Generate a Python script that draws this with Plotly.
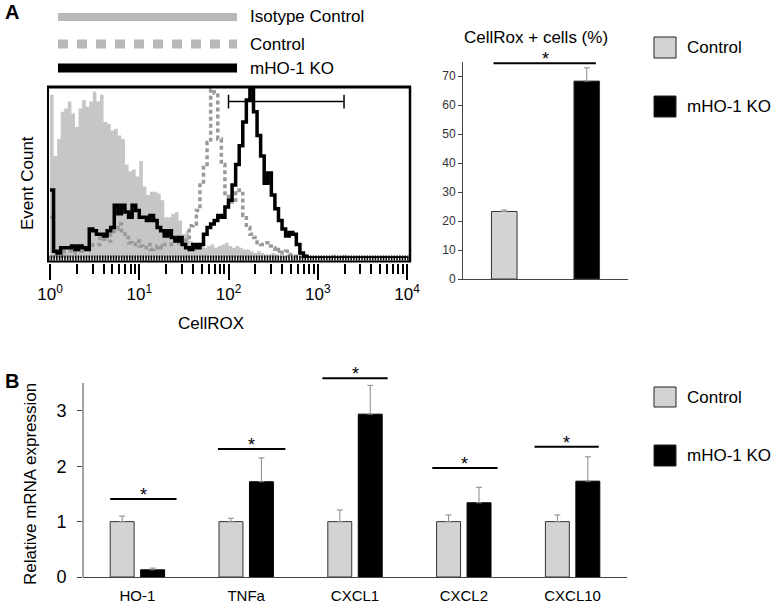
import plotly.graph_objects as go

# ---------------- DATA ----------------
# Panel A, flow histogram: counts (% of max) in bins of 0.04 decade, starting at 10^0
hist_bin_decades = 0.04
isotype_counts = [96, 60, 70, 86, 88, 92, 85, 77, 88, 93, 89, 92, 98, 92, 96, 80, 79, 75, 76, 72,
                  70, 55, 51, 52, 48, 57, 42, 37, 39, 39, 38, 34, 24, 24, 26, 27, 22, 14, 16, 10,
                  8, 9, 7, 6, 7, 8, 6, 7, 8, 9, 7, 6, 7, 6, 5, 5, 4, 3, 4, 3,
                  2, 2, 3, 2, 1, 1, 1, 0, 0, 0, 0, 2, 0, 0, 0, 0, 0, 0, 0, 2,
                  0, 0, 2, 0, 0, 0, 0, 0, 0, 0, 0, 0, 0, 0, 0, 0, 0, 0, 0, 0]
control_counts = [24, 2, 2, 1, 4, 4, 3, 4, 4, 6, 5, 6, 8, 8, 12, 11, 10, 14, 17, 20,
                  16, 12, 9, 8, 10, 7, 6, 8, 5, 6, 7, 6, 8, 8, 10, 12, 9, 10, 12, 19,
                  20, 28, 43, 55, 68, 99, 97, 70, 55, 38, 33, 34, 40, 38, 25, 18, 14, 12, 9, 8,
                  9, 7, 6, 4, 5, 3, 4, 2, 1, 0, 0, 0, 0, 0, 0, 0, 0, 0, 0, 0,
                  0, 0, 0, 0, 0, 0, 0, 0, 0, 0, 0, 0, 0, 0, 0, 0, 0, 0, 0, 0]
ko_counts = [40, 4, 3, 6, 6, 6, 7, 5, 7, 6, 5, 17, 16, 14, 14, 13, 16, 18, 31, 26,
             31, 27, 24, 31, 28, 24, 24, 22, 25, 22, 18, 16, 13, 16, 12, 10, 12, 8, 6, 5,
             8, 6, 8, 14, 18, 20, 22, 25, 24, 30, 34, 43, 55, 66, 80, 93, 100, 86, 72, 60,
             44, 50, 37, 29, 22, 17, 13, 15, 14, 8, 3, 1, 0, 0, 0, 0, 0, 0, 0, 0,
             0, 0, 0, 0, 0, 0, 0, 0, 0, 0, 0, 0, 0, 0, 0, 0, 0, 0, 0, 0]
gate_limits = [100, 1970]
gate_level = 92
gate_cap = 4
hist_tick_vals = [1, 10, 100, 1000, 10000]
hist_tick_text = ["10<sup>0</sup>", "10<sup>1</sup>", "10<sup>2</sup>", "10<sup>3</sup>", "10<sup>4</sup>"]

# Panel A, bar chart
cellrox_groups = ["Control", "mHO-1 KO"]
cellrox_values = [23.3, 68.3]
cellrox_errors = [0.5, 4.6]
cellrox_sig_level = 74.5
cellrox_ticks = [0, 10, 20, 30, 40, 50, 60, 70]

# Panel B
genes = ["HO-1", "TNFa", "CXCL1", "CXCL2", "CXCL10"]
control_expr = [1.0, 1.0, 1.0, 1.0, 1.0]
control_err = [0.10, 0.06, 0.21, 0.12, 0.12]
ko_expr = [0.13, 1.72, 2.94, 1.34, 1.73]
ko_err = [0.03, 0.43, 0.52, 0.28, 0.44]
sig_heights = [1.41, 2.31, 3.59, 1.97, 2.35]
sig_start = [-0.25, -0.26, -0.30, -0.29, -0.35]
sig_end = [0.36, 0.36, 0.30, 0.31, 0.24]
expr_ticks = [0, 1, 2, 3]

# ---------------- LAYOUT HELPERS ----------------
W, H = 773, 604
def PX(x):
    return x / W
def PY(y):
    return 1 - y / H

FONT = "Arial, Liberation Sans, sans-serif"
LIGHT = "#d3d3d3"
ISO = "#c6c6c6"
CTRL_LINE = "#9a9a9a"

fig = go.Figure()

# ---------------- Histogram ----------------
n = len(isotype_counts)
hx = [10 ** (hist_bin_decades * k) for k in range(n)] + [10 ** (hist_bin_decades * n)]
def ext(v):
    return list(v) + [v[-1]]

fig.add_trace(go.Scatter(x=hx, y=ext(isotype_counts), mode="lines", line=dict(shape="hv", width=0, color=ISO),
                         fill="tozeroy", fillcolor=ISO, xaxis="x", yaxis="y", showlegend=False))
fig.add_trace(go.Scatter(x=hx, y=ext(control_counts), mode="lines",
                         line=dict(shape="hv", width=3.5, color=CTRL_LINE, dash="4px,3px"),
                         xaxis="x", yaxis="y", showlegend=False))
fig.add_trace(go.Scatter(x=hx, y=ext(ko_counts), mode="lines", line=dict(shape="hv", width=3.5, color="black"),
                         xaxis="x", yaxis="y", showlegend=False))
# gate marker
fig.add_trace(go.Scatter(x=[gate_limits[0], gate_limits[0], None, gate_limits[0], gate_limits[1], None,
                            gate_limits[1], gate_limits[1]],
                         y=[gate_level - gate_cap, gate_level + gate_cap, None, gate_level, gate_level, None,
                            gate_level - gate_cap, gate_level + gate_cap],
                         mode="lines", line=dict(color="black", width=1.5), xaxis="x", yaxis="y", showlegend=False))

minor_vals = [m * 10 ** d for d in range(4) for m in range(2, 10)]

# ---------------- CellROX bars ----------------
fig.add_trace(go.Bar(x=cellrox_groups, y=cellrox_values, width=0.31, offset=-0.155,
                     marker=dict(color=[LIGHT, "black"], line=dict(color="#333", width=1)),
                     error_y=dict(type="data", symmetric=False, array=cellrox_errors, arrayminus=[0, 0],
                                  color="#888", thickness=1, width=3),
                     xaxis="x2", yaxis="y2", showlegend=False))

# ---------------- Panel B bars ----------------
fig.add_trace(go.Bar(x=genes, y=control_expr, width=0.22, offset=-0.25,
                     marker=dict(color=LIGHT, line=dict(color="#333", width=1)),
                     error_y=dict(type="data", symmetric=False, array=control_err, arrayminus=[0] * 5,
                                  color="#888", thickness=1, width=3),
                     xaxis="x3", yaxis="y3", showlegend=False))
fig.add_trace(go.Bar(x=genes, y=ko_expr, width=0.22, offset=0.03,
                     marker=dict(color="black", line=dict(color="black", width=1)),
                     error_y=dict(type="data", symmetric=False, array=ko_err, arrayminus=[0] * 5,
                                  color="#888", thickness=1, width=3),
                     xaxis="x3", yaxis="y3", showlegend=False))

shapes = []
annotations = []

# histogram frame
shapes += [
    dict(type="line", xref="paper", yref="paper", x0=PX(47), x1=PX(411), y0=PY(87), y1=PY(87),
         line=dict(color="black", width=3)),
    dict(type="line", xref="paper", yref="paper", x0=PX(48), x1=PX(48), y0=PY(86), y1=PY(262),
         line=dict(color="black", width=2)),
    dict(type="line", xref="paper", yref="paper", x0=PX(410), x1=PX(410), y0=PY(86), y1=PY(262),
         line=dict(color="black", width=2.5)),
    dict(type="line", xref="paper", yref="paper", x0=PX(48), x1=PX(410), y0=PY(258), y1=PY(258),
         line=dict(color="black", width=5, dash="1.5px,1.2px")),
    dict(type="line", xref="paper", yref="paper", x0=PX(47), x1=PX(411), y0=PY(261.5), y1=PY(261.5),
         line=dict(color="black", width=2)),
]
# histogram legend
shapes += [
    dict(type="line", xref="paper", yref="paper", x0=PX(58), x1=PX(237), y0=PY(17), y1=PY(17),
         line=dict(color="#b8b8b8", width=8)),
    dict(type="line", xref="paper", yref="paper", x0=PX(58), x1=PX(237), y0=PY(44), y1=PY(44),
         line=dict(color="#b8b8b8", width=9, dash="10px,9px")),
    dict(type="line", xref="paper", yref="paper", x0=PX(58), x1=PX(237), y0=PY(68), y1=PY(68),
         line=dict(color="black", width=9)),
]
for txt, yy in [("Isotype Control", 17), ("Control", 44), ("mHO-1 KO", 68)]:
    annotations.append(dict(text=txt, xref="paper", yref="paper", x=PX(248), y=PY(yy), xanchor="left",
                            yanchor="middle", showarrow=False, font=dict(size=17, color="black")))

annotations += [
    dict(text="<b>A</b>", xref="paper", yref="paper", x=PX(3), y=PY(12), xanchor="left", yanchor="middle",
         showarrow=False, font=dict(size=20, color="black")),
    dict(text="<b>B</b>", xref="paper", yref="paper", x=PX(3), y=PY(381), xanchor="left", yanchor="middle",
         showarrow=False, font=dict(size=20, color="black")),
    dict(text="Event Count", xref="paper", yref="paper", x=PX(27), y=PY(183), textangle=-90,
         xanchor="center", yanchor="middle", showarrow=False, font=dict(size=17, color="black")),
    dict(text="CellROX", xref="paper", yref="paper", x=PX(211), y=PY(323), xanchor="center",
         yanchor="middle", showarrow=False, font=dict(size=17, color="black")),
    dict(text="CellRox + cells (%)", xref="paper", yref="paper", x=PX(536), y=PY(37), xanchor="center",
         yanchor="middle", showarrow=False, font=dict(size=17, color="black")),
    dict(text="Relative mRNA expression", xref="paper", yref="paper", x=PX(30), y=PY(484), textangle=-90,
         xanchor="center", yanchor="middle", showarrow=False, font=dict(size=17, color="black")),
]

# CellROX significance
shapes.append(dict(type="line", xref="x2", yref="y2", x0=-0.13, x1=1.11, y0=cellrox_sig_level,
                   y1=cellrox_sig_level, line=dict(color="black", width=2)))
annotations.append(dict(text="*", xref="x2", yref="y2", x=0.5, y=cellrox_sig_level, yshift=4,
                        xanchor="center", yanchor="middle", showarrow=False, font=dict(size=18, color="black")))

# Panel B significance
for i, h in enumerate(sig_heights):
    shapes.append(dict(type="line", xref="x3", yref="y3", x0=i + sig_start[i], x1=i + sig_end[i], y0=h, y1=h,
                       line=dict(color="black", width=2)))
    annotations.append(dict(text="*", xref="x3", yref="y3", x=i + (sig_start[i] + sig_end[i]) / 2, y=h,
                            yshift=4, xanchor="center", yanchor="middle", showarrow=False,
                            font=dict(size=18, color="black")))

# Panel B y-axis line
shapes.append(dict(type="line", xref="paper", yref="paper", x0=PX(83), x1=PX(83), y0=PY(577), y1=PY(383),
                   line=dict(color="#444", width=1)))

# Side legends
for (ytop, ybot, col, txt) in [(37, 58, LIGHT, "Control"), (96, 117, "black", "mHO-1 KO"),
                               (387, 407, LIGHT, "Control"), (445, 466, "black", "mHO-1 KO")]:
    shapes.append(dict(type="rect", xref="paper", yref="paper", x0=PX(654), x1=PX(676), y0=PY(ybot), y1=PY(ytop),
                       fillcolor=col, line=dict(color="#222", width=1)))
    annotations.append(dict(text=txt, xref="paper", yref="paper", x=PX(685), y=PY((ytop + ybot) / 2),
                            xanchor="left", yanchor="middle", showarrow=False, font=dict(size=17, color="black")))

fig.update_layout(
    width=W, height=H, margin=dict(l=0, r=0, t=0, b=0, autoexpand=False),
    paper_bgcolor="white", plot_bgcolor="rgba(0,0,0,0)",
    font=dict(family=FONT, color="black"),
    showlegend=False, barmode="group",
    xaxis=dict(domain=[PX(50), PX(407)], anchor="free", position=PY(262.5), type="log", range=[0, 4],
               automargin=False, showline=False, showgrid=False, zeroline=False,
               ticks="outside", ticklen=16, tickwidth=2, tickcolor="black",
               tickmode="array", tickvals=hist_tick_vals, ticktext=hist_tick_text,
               tickfont=dict(size=17, color="black"),
               minor=dict(ticks="outside", ticklen=10, tickwidth=2, tickcolor="black",
                          tickmode="array", tickvals=minor_vals, showgrid=False)),
    yaxis=dict(domain=[PY(258), PY(88)], range=[0, 100], visible=False, anchor="free", position=PX(50),
               automargin=False),
    xaxis2=dict(domain=[PX(463), PX(628)], anchor="y2", range=[-0.5, 1.5], showline=True, linecolor="#444",
                linewidth=1, showticklabels=False, ticks="", showgrid=False, zeroline=False, automargin=False),
    yaxis2=dict(domain=[PY(279), PY(61.7)], anchor="x2", range=[0, 75], showline=True, linecolor="#444",
                linewidth=1, ticks="outside", ticklen=4, tickcolor="#444", tickvals=cellrox_ticks,
                tickfont=dict(size=12, color="#333"), showgrid=False, zeroline=False, automargin=False),
    xaxis3=dict(domain=[PX(83), PX(627)], anchor="y3", range=[-0.5, 4.5], showline=True, linecolor="#444",
                linewidth=1, ticks="", tickfont=dict(size=15, color="black"), ticklabelstandoff=5,
                showgrid=False, zeroline=False, automargin=False),
    yaxis3=dict(domain=[PY(577), PY(376.5)], anchor="x3", range=[0, 3.62], showline=False,
                ticks="outside", ticklen=5, tickcolor="#444", tickwidth=1,
                tickvals=expr_ticks, tickfont=dict(size=18, color="black"), ticklabelstandoff=7,
                showgrid=False, zeroline=False, automargin=False),
    shapes=shapes, annotations=annotations,
)

fig.write_html("out.html", config={"displayModeBar": False},
               post_script="document.body.style.margin='0px';document.body.style.overflow='hidden';")
